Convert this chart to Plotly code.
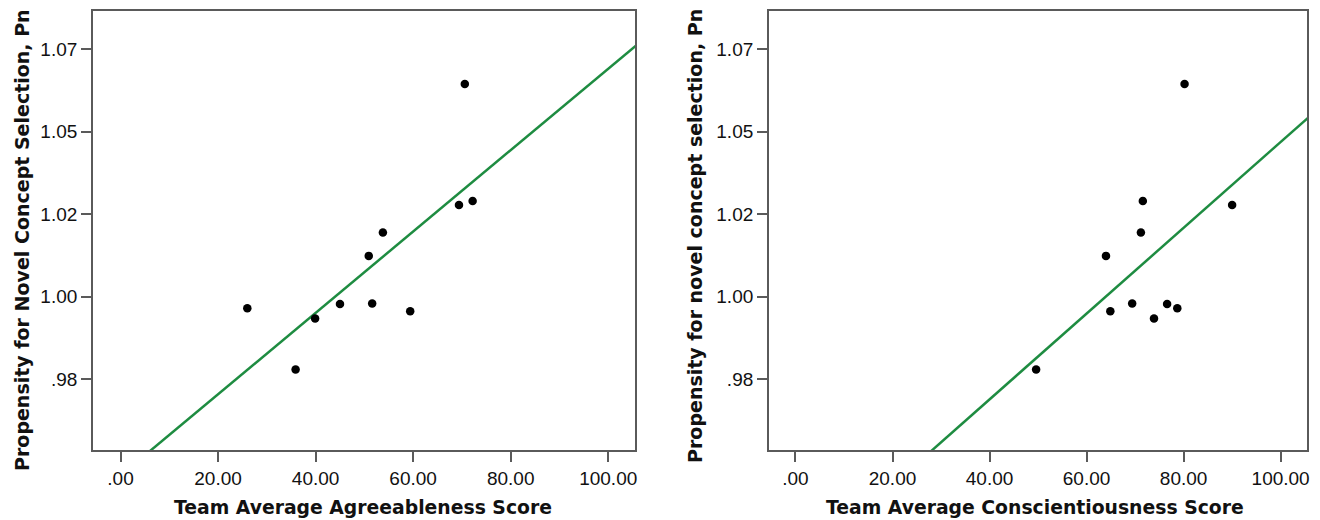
import plotly.graph_objects as go

# ---- data ----
agree_x = [70.6, 69.4, 72.2, 53.8, 50.9, 26.0, 39.9, 45.0, 51.6, 59.4, 35.9]
agree_y = [1.0645, 1.0278, 1.0290, 1.0195, 1.0124, 0.9965, 0.9934, 0.9978, 0.9980, 0.9956, 0.9780]

consc_x = [80.2, 71.6, 90.0, 71.2, 64.0, 64.9, 69.4, 73.9, 76.6, 78.7, 49.6]
consc_y = [1.0645, 1.0290, 1.0278, 1.0195, 1.0124, 0.9956, 0.9980, 0.9934, 0.9978, 0.9965, 0.9780]

# fit lines (endpoints, clipped by the axes)
agree_fit_x = [-10, 110]
agree_fit_y = [0.9335, 1.0814]
consc_fit_x = [-10, 110]
consc_fit_y = [0.9039, 1.0599]

x_tickvals = [0, 20, 40, 60, 80, 100]
x_ticktext = [".00", "20.00", "40.00", "60.00", "80.00", "100.00"]
y_tickvals = [0.975, 1.000, 1.025, 1.050, 1.075]
y_ticktext = [".98", "1.00", "1.02", "1.05", "1.07"]

x_titles = ["Team Average Agreeableness Score", "Team Average Conscientiousness Score"]
y_titles = ["Propensity for Novel Concept Selection, Pn", "Propensity for novel concept selection, Pn"]

# ---- figure ----
W, H = 1320, 520
GREEN = "#1e8c41"
FRAME = "#5a5a5a"
TICKFONT = dict(family="Liberation Sans, Arial, sans-serif", size=19, color="#111111")
XTITLEFONT = dict(family="DejaVu Sans, Verdana, sans-serif", size=18.8, color="#111111")
YTITLEFONT = dict(family="DejaVu Sans, Verdana, sans-serif", size=19, color="#111111")

fig = go.Figure()
for i, (fx, fy, px, py) in enumerate([
        (agree_fit_x, agree_fit_y, agree_x, agree_y),
        (consc_fit_x, consc_fit_y, consc_x, consc_y)]):
    xa = "x" if i == 0 else "x2"
    ya = "y" if i == 0 else "y2"
    fig.add_trace(go.Scatter(x=fx, y=fy, mode="lines", xaxis=xa, yaxis=ya,
                             line=dict(color=GREEN, width=2.5), showlegend=False,
                             hoverinfo="skip"))
    fig.add_trace(go.Scatter(x=px, y=py, mode="markers", xaxis=xa, yaxis=ya,
                             marker=dict(color="black", size=8.5), showlegend=False))

x_domains = [[93 / W, 636 / W], [770 / W, 1309.3 / W]]
x_ranges = [[-5.67, 105.5], [-5.49, 105.5]]
y_domain = [1 - 450 / H, 1 - 11 / H]
y_range = [0.95358, 1.0866]

common_axis = dict(showgrid=False, zeroline=False, showline=True, mirror=True,
                   linecolor=FRAME, linewidth=1.5, ticks="outside", ticklen=10,
                   tickwidth=1.5, tickcolor=FRAME, tickfont=TICKFONT)

layout = dict(width=W, height=H, margin=dict(l=0, r=0, t=0, b=0),
              paper_bgcolor="white", plot_bgcolor="white")
for i in range(2):
    sfx = "" if i == 0 else "2"
    layout["xaxis" + sfx] = dict(common_axis, domain=x_domains[i], range=x_ranges[i],
                                 tickvals=x_tickvals, ticktext=x_ticktext,
                                 anchor="y" + sfx)
    layout["yaxis" + sfx] = dict(common_axis, domain=y_domain, range=y_range,
                                 tickvals=y_tickvals, ticktext=y_ticktext,
                                 anchor="x" + sfx)
fig.update_layout(**layout)

annotations = []
x_title_centers = [364, 1037]
y_title_centers = [(22, 240), (696, 236)]
for i in range(2):
    annotations.append(dict(text="<b>%s</b>" % x_titles[i], xref="paper", yref="paper",
                            x=x_title_centers[i] / W, y=1 - 507 / H, xanchor="center",
                            yanchor="middle", showarrow=False, font=XTITLEFONT))
    cx, cy = y_title_centers[i]
    annotations.append(dict(text="<b>%s</b>" % y_titles[i], xref="paper", yref="paper",
                            x=cx / W, y=1 - cy / H, xanchor="center", yanchor="middle",
                            textangle=-90, showarrow=False, font=YTITLEFONT))
fig.update_layout(annotations=annotations)

fig.write_html("out.html", config={"displayModeBar": False},
               post_script="document.body.style.margin='0';document.body.style.padding='0';")
